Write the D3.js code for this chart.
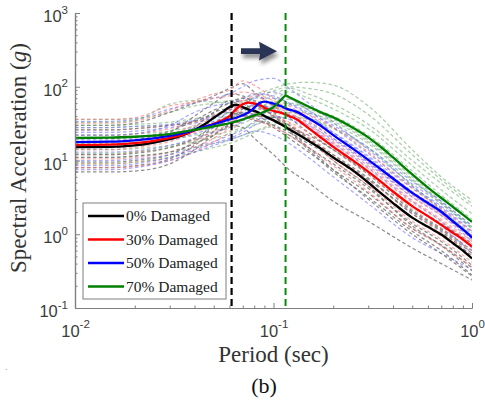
<!DOCTYPE html>
<html>
<head>
<meta charset="utf-8">
<script src="https://cdn.jsdelivr.net/npm/d3@7"></script>
<style>
  body { margin: 0; background: #fff; }
  svg { display: block; }
</style>
</head>
<body>
<svg id="chart" width="485" height="403"></svg>
<script>
// mean spectra (g) for each damage state
const meanPeriods = [0.01, 0.015, 0.02, 0.025, 0.03, 0.035, 0.04, 0.045, 0.05, 0.055, 0.06, 0.065, 0.07, 0.075, 0.08, 0.085, 0.09, 0.1, 0.11, 0.115, 0.12, 0.13, 0.15, 0.17, 0.2, 0.25, 0.3, 0.35, 0.4, 0.5, 0.6, 0.7, 0.8, 0.9, 1.0];
const mean0  = [15.2, 15.3, 16.0, 17.5, 19.5, 22, 25.9, 31, 38, 45, 53, 57, 53, 49, 47, 44, 40, 35, 30.5, 28.5, 26.5, 23.5, 18.5, 15, 11, 7.4, 5.03, 3.55, 2.65, 1.68, 1.26, 0.99, 0.76, 0.6, 0.47];
const mean30 = [16.2, 16.4, 17.2, 18.5, 20.2, 22.5, 25.5, 28.5, 31.5, 35, 40, 50, 58, 61, 59, 57, 52, 47, 44, 42, 40, 36.5, 27.5, 21.3, 15.3, 10.1, 7.06, 5.1, 3.8, 2.41, 1.76, 1.34, 1.05, 0.85, 0.68];
const mean50 = [17.8, 18, 18.8, 20, 21.5, 23.5, 26, 28.5, 31, 33.5, 36, 38, 41, 45, 52, 60, 63, 59, 54, 51, 49, 46, 37.3, 30.5, 22.1, 14.6, 10.2, 7.5, 5.7, 3.64, 2.65, 2.02, 1.5, 1.16, 0.9];
const mean70 = [20.2, 20.4, 21, 21.8, 22.8, 24.5, 26, 27.5, 29, 30.5, 32, 34, 36, 38.5, 41, 43, 46, 53, 68, 76, 72, 65, 54, 46, 38.4, 28, 20.6, 15, 11, 6.5, 4.3, 3.1, 2.36, 1.84, 1.47];

// individual records (dashed)
const recPeriods = [0.01, 0.015, 0.02, 0.03, 0.04, 0.05, 0.06, 0.07, 0.08, 0.1, 0.12, 0.15, 0.2, 0.3, 0.5, 0.7, 1.0];
const rec0 = [
  [30, 30, 32, 45, 60, 75, 95, 110, 85, 55, 38, 24, 14, 6.5, 2.1, 1.2, 0.6],
  [8, 8, 8.5, 10.5, 16, 25, 40, 45, 42, 30, 22, 15, 9, 4.2, 1.4, 0.8, 0.38],
  [20, 20, 21, 25, 35, 48, 60, 70, 65, 45, 30, 19, 10, 4.5, 1.3, 0.7, 0.32],
  [12, 12, 12.5, 15, 20, 30, 45, 40, 35, 30, 24, 17, 11, 5.5, 2.0, 1.15, 0.55],
  [9.5, 9.5, 10, 12, 18, 28, 35, 50, 55, 40, 25, 14, 7, 3.2, 1.1, 0.6, 0.28],
  [26, 26, 27, 30, 34, 44, 65, 60, 48, 36, 28, 22, 14, 6.8, 2.4, 1.4, 0.75],
  [15, 15, 16, 20, 28, 45, 50, 42, 38, 28, 20, 13, 7.5, 3.6, 1.2, 0.72, 0.35],
  [7, 7, 7.2, 9, 14, 22, 30, 28, 20, 12, 7.5, 5, 2.8, 1.5, 0.65, 0.4, 0.24],
  [18, 18, 19, 24, 40, 60, 80, 75, 60, 40, 26, 15, 7.5, 3, 1.0, 0.55, 0.27],
  [11, 11, 11.5, 13, 17, 22, 30, 35, 40, 38, 30, 20, 12, 5.8, 1.9, 1.1, 0.5]
];
const rec30 = [
  [32, 32, 34, 48, 65, 80, 90, 120, 105, 70, 55, 38, 22, 10, 3.5, 1.9, 0.95],
  [9, 9, 9.5, 11, 15, 20, 28, 42, 44, 35, 30, 21, 12, 5.5, 1.9, 1.05, 0.52],
  [22, 22, 23, 27, 33, 40, 50, 70, 62, 48, 42, 30, 17, 7.8, 2.7, 1.5, 0.75],
  [12, 12, 13, 15, 19, 25, 32, 48, 55, 40, 33, 24, 14, 6.5, 2.2, 1.2, 0.6],
  [18, 18, 19, 22, 30, 38, 55, 65, 58, 42, 32, 20, 11, 5, 1.7, 0.95, 0.48],
  [26, 26, 27, 30, 34, 42, 48, 62, 75, 55, 48, 35, 20, 9.5, 3.2, 1.8, 0.9],
  [8, 8, 8.3, 10, 13, 18, 24, 36, 40, 36, 28, 19, 10, 4.6, 1.5, 0.85, 0.42],
  [14, 14, 15, 18, 24, 30, 38, 52, 50, 52, 44, 32, 18, 8.5, 2.9, 1.6, 0.8],
  [36, 36, 38, 55, 62, 70, 75, 85, 80, 65, 50, 42, 28, 13, 4.2, 2.2, 1.1],
  [10.5, 10.5, 11, 13, 17, 23, 30, 40, 36, 28, 22, 15, 8.5, 3.8, 1.2, 0.7, 0.36]
];
const rec50 = [
  [34, 34, 36, 50, 60, 70, 80, 100, 120, 130, 95, 60, 33, 14, 4.8, 2.6, 1.2],
  [10, 10, 10.5, 12, 15, 18, 22, 26, 34, 40, 36, 28, 17, 8, 2.8, 1.5, 0.65],
  [24, 24, 25, 28, 32, 38, 44, 52, 70, 70, 58, 42, 24, 11, 3.8, 2.1, 0.95],
  [13, 13, 13.5, 16, 20, 24, 28, 34, 45, 55, 48, 38, 24, 11.5, 4.2, 2.3, 1.05],
  [19, 19, 20, 23, 28, 34, 40, 45, 58, 50, 40, 28, 16, 7, 2.4, 1.3, 0.55],
  [8.5, 8.5, 9, 11, 14, 17, 20, 24, 30, 38, 38, 30, 19, 9, 3.2, 1.8, 0.8],
  [28, 28, 29, 31, 35, 40, 48, 58, 72, 85, 70, 48, 28, 12.5, 4.4, 2.4, 1.1],
  [15, 15, 16, 19, 23, 28, 33, 37, 42, 45, 42, 33, 20, 9.5, 3.4, 1.9, 0.85],
  [7.5, 7.5, 8, 10, 13, 16, 19, 22, 25, 22, 17, 11, 6, 2.6, 0.9, 0.55, 0.33],
  [22, 22, 23, 30, 45, 55, 60, 68, 80, 75, 60, 45, 30, 15, 5.2, 2.8, 1.3]
];
const rec70 = [
  [36, 36, 37, 45, 55, 60, 65, 70, 78, 95, 110, 115, 105, 55, 14, 6, 2.9],
  [11, 11, 11.5, 13, 15, 17, 19, 22, 25, 32, 45, 38, 28, 15, 4.6, 2.2, 1.0],
  [28, 28, 29, 30, 33, 37, 40, 44, 50, 65, 85, 70, 50, 27, 8.5, 4.0, 1.9],
  [14, 14, 14.5, 16, 19, 22, 25, 28, 32, 42, 58, 50, 36, 19, 6, 2.8, 1.3],
  [22, 22, 23, 25, 29, 33, 38, 42, 48, 60, 68, 48, 32, 17, 5.4, 2.6, 1.2],
  [9, 9, 9.5, 11, 13, 15, 17, 20, 24, 30, 40, 36, 27, 14.5, 4.5, 2.1, 0.95],
  [30, 30, 31, 33, 37, 41, 45, 50, 58, 78, 95, 80, 58, 31, 10, 4.9, 2.4],
  [17, 17, 17.5, 19, 22, 25, 28, 32, 38, 50, 60, 52, 40, 22, 7.2, 3.4, 1.6],
  [33, 33, 35, 58, 65, 62, 60, 64, 70, 88, 100, 95, 80, 42, 12, 5.5, 2.6],
  [12.5, 12.5, 13, 15, 18, 20, 23, 27, 30, 38, 48, 44, 34, 18, 5.6, 2.7, 1.25]
];

const seriesNames = ["0% Damaged", "30% Damaged", "50% Damaged", "70% Damaged"];
const fundamentalPeriods = [0.0615, 0.115]; // undamaged / 70% damaged

const xTickValues = [0.01, 0.1, 1];
const yTickValues = [0.1, 1, 10, 100, 1000];

// styles
const meanColors = ["#000000", "#ff0000", "#0000ff", "#008000"];
const recColors = ["#7a7a7a", "#ff7070", "#7070ff", "#66a866"];
const recOpacity = [0.85, 0.6, 0.6, 0.55];

const svg = d3.select("#chart");
const plotLeft = 75, plotRight = 472, plotTop = 13, plotBottom = 308;

const x = d3.scaleLog().domain([0.01, 1]).range([plotLeft, plotRight]);
const y = d3.scaleLog().domain([0.1, 1000]).range([plotBottom, plotTop]);

const defs = svg.append("defs");
defs.append("clipPath").attr("id", "plot")
  .append("rect").attr("x", plotLeft).attr("y", plotTop)
  .attr("width", plotRight - plotLeft).attr("height", plotBottom - plotTop);

const shadow = defs.append("filter").attr("id", "shadow")
  .attr("x", "-50%").attr("y", "-50%").attr("width", "200%").attr("height", "200%");
shadow.append("feDropShadow").attr("dx", 2).attr("dy", 4)
  .attr("stdDeviation", 2.2).attr("flood-color", "#000").attr("flood-opacity", 0.45);

const line = d3.line()
  .x(d => x(d[0]))
  .y(d => y(d[1]))
  .curve(d3.curveMonotoneX);

const plot = svg.append("g").attr("clip-path", "url(#plot)");

// dashed records, interleaved so colours mix
const recGroups = [rec0, rec30, rec50, rec70];
for (let i = 0; i < 10; i++) {
  [3, 2, 1, 0].forEach(g => {
    const vals = recGroups[g][i];
    plot.append("path")
      .attr("d", line(recPeriods.map((p, j) => [p, vals[j]])))
      .attr("fill", "none")
      .attr("stroke", recColors[g])
      .attr("stroke-opacity", recOpacity[g])
      .attr("stroke-width", 1.25)
      .attr("stroke-dasharray", "3.5,2.5");
  });
}

// axes (MATLAB style, ticks inward)
const minorX = [];
[0.01, 0.1].forEach(d => { for (let k = 2; k <= 9; k++) minorX.push(d * k); });
const minorY = [];
[0.1, 1, 10, 100].forEach(d => { for (let k = 2; k <= 9; k++) minorY.push(d * k); });

const axisColor = "#7f7f7f";

const xMinor = svg.append("g").attr("transform", `translate(0,${plotBottom})`)
  .call(d3.axisBottom(x).tickValues(minorX).tickSize(-2.5).tickSizeOuter(0).tickFormat(""));
const xMajor = svg.append("g").attr("transform", `translate(0,${plotBottom})`)
  .call(d3.axisBottom(x).tickValues(xTickValues).tickSize(-5).tickSizeOuter(0).tickFormat(""));
const yMinor = svg.append("g").attr("transform", `translate(${plotLeft},0)`)
  .call(d3.axisLeft(y).tickValues(minorY).tickSize(-2.5).tickSizeOuter(0).tickFormat(""));
const yMajor = svg.append("g").attr("transform", `translate(${plotLeft},0)`)
  .call(d3.axisLeft(y).tickValues(yTickValues).tickSize(-5).tickSizeOuter(0).tickFormat(""));

[xMinor, xMajor, yMinor, yMajor].forEach(g => {
  g.selectAll("path.domain").attr("stroke", axisColor).attr("stroke-width", 1.2);
  g.selectAll(".tick line").attr("stroke", axisColor);
});

function powLabel(sel, exp) {
  sel.append("tspan").text("10");
  sel.append("tspan").attr("dy", -8.5).attr("font-size", 11.5).text(exp);
}

xMajor.selectAll(".tick").append("text")
  .attr("x", 0).attr("y", 28.5).attr("dy", 0)
  .attr("text-anchor", "middle")
  .attr("font-family", "Liberation Sans, Arial, sans-serif")
  .attr("font-size", 16.5).attr("fill", "#3c3c3c")
  .each(function(d) { powLabel(d3.select(this), String(Math.round(Math.log10(d)))); });

yMajor.selectAll(".tick").append("text")
  .attr("x", -7).attr("y", 8.5).attr("dy", 0)
  .attr("text-anchor", "end")
  .attr("font-family", "Liberation Sans, Arial, sans-serif")
  .attr("font-size", 16.5).attr("fill", "#3c3c3c")
  .each(function(d) { powLabel(d3.select(this), String(Math.round(Math.log10(d)))); });

// fundamental period markers
svg.append("line")
  .attr("x1", x(fundamentalPeriods[0])).attr("x2", x(fundamentalPeriods[0]))
  .attr("y1", plotTop).attr("y2", plotBottom)
  .attr("stroke", "#000").attr("stroke-width", 2.2).attr("stroke-dasharray", "7,4");
svg.append("line")
  .attr("x1", x(fundamentalPeriods[1])).attr("x2", x(fundamentalPeriods[1]))
  .attr("y1", plotTop).attr("y2", plotBottom)
  .attr("stroke", "#0a8a0a").attr("stroke-width", 2).attr("stroke-dasharray", "7,4");

// mean lines
[mean0, mean30, mean50, mean70].forEach((vals, i) => {
  plot.append("path")
    .attr("d", line(meanPeriods.map((p, j) => [p, vals[j]])))
    .attr("fill", "none")
    .attr("stroke", meanColors[i])
    .attr("stroke-width", 2.3);
});

// legend
const legend = svg.append("g");
legend.append("rect")
  .attr("x", 83).attr("y", 203).attr("width", 143).attr("height", 96)
  .attr("fill", "#fff").attr("stroke", axisColor).attr("stroke-width", 1);
seriesNames.forEach((name, i) => {
  const ly = 216 + i * 23.5;
  legend.append("line")
    .attr("x1", 88).attr("x2", 124).attr("y1", ly).attr("y2", ly)
    .attr("stroke", meanColors[i]).attr("stroke-width", 2.3);
  legend.append("text")
    .attr("x", 126).attr("y", ly).attr("dy", "0.35em")
    .attr("font-family", "Liberation Serif, Times New Roman, serif")
    .attr("font-size", 15.5).attr("fill", "#222")
    .text(name);
});

// arrow showing the period shift
svg.append("path")
  .attr("d", "M241,48.3 L260,48.3 L259,41.8 L277,51.2 L259,60.6 L260,54 L241,54 Z")
  .attr("fill", "#2a3656")
  .attr("filter", "url(#shadow)");

// axis labels
svg.append("text")
  .attr("x", (plotLeft + plotRight) / 2).attr("y", 362)
  .attr("text-anchor", "middle")
  .attr("font-family", "Liberation Serif, Times New Roman, serif")
  .attr("font-size", 23).attr("fill", "#333")
  .text("Period (sec)");

const yl = svg.append("text")
  .attr("transform", "translate(26,158) rotate(-90)")
  .attr("text-anchor", "middle")
  .attr("font-family", "Liberation Serif, Times New Roman, serif")
  .attr("font-size", 23).attr("fill", "#333");
yl.append("tspan").text("Spectral Acceleration (");
yl.append("tspan").attr("font-style", "italic").text("g");
yl.append("tspan").text(")");

svg.append("text")
  .attr("x", 264).attr("y", 393)
  .attr("text-anchor", "middle")
  .attr("font-family", "Liberation Serif, Times New Roman, serif")
  .attr("font-size", 22).attr("fill", "#111")
  .text("(b)");

svg.append("text")
  .attr("x", 5).attr("y", 370)
  .attr("font-family", "Liberation Serif, serif")
  .attr("font-size", 10).attr("fill", "#999")
  .text(".");
</script>
</body>
</html>
